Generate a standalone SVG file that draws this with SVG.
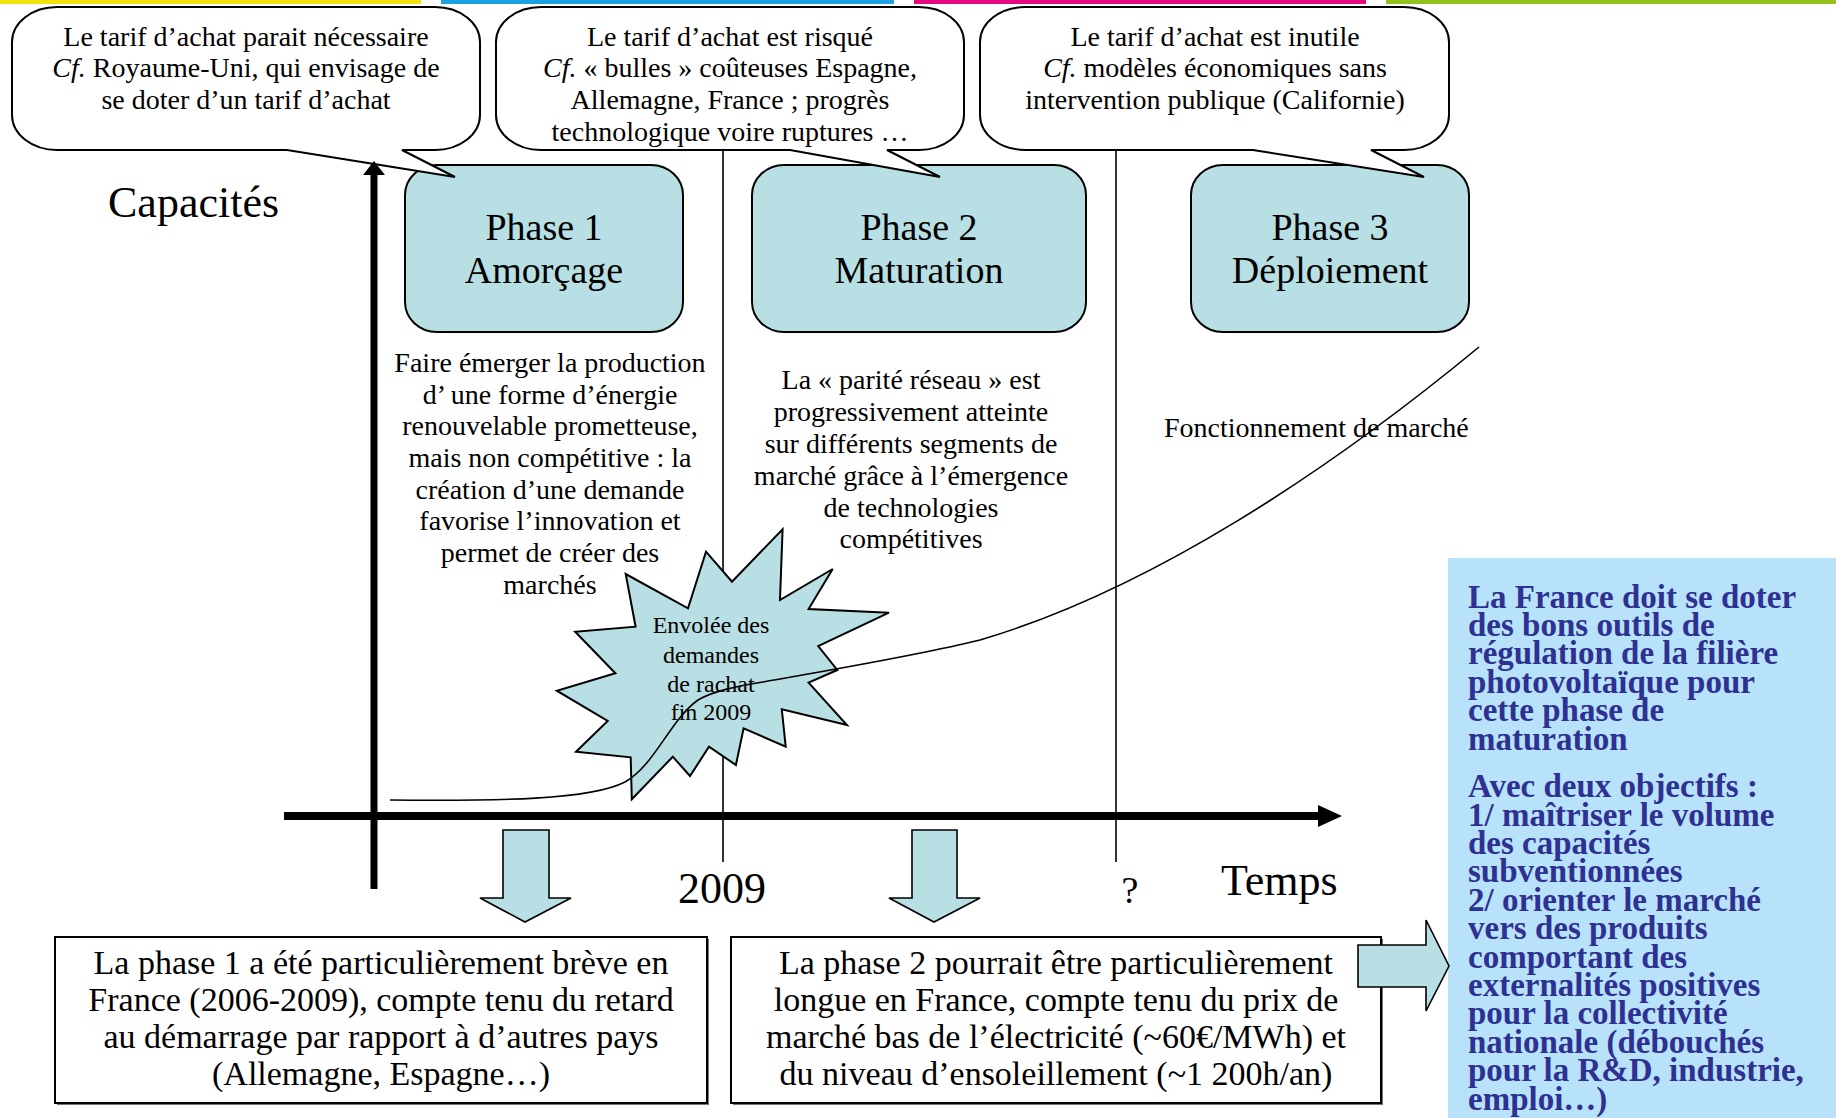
<svg xmlns="http://www.w3.org/2000/svg" width="1836" height="1118" viewBox="0 0 1836 1118">
  <style>
    text { font-family: "Liberation Serif", "Times New Roman", serif; fill: #000; }
    .c { text-anchor: middle; }
    .call { font-size: 28px; }
    .desc { font-size: 28px; }
    .phase { font-size: 38px; text-anchor: middle; }
    .bot { font-size: 34px; text-anchor: middle; }
    .blue { font-size: 33px; font-weight: bold; fill: #2e3192; }
    .bubble { fill: #fff; stroke: #000; stroke-width: 2; }
    .pbox { fill: #b8dfe3; stroke: #000; stroke-width: 2; }
    .barrow { fill: #b8dfe3; stroke: #000; stroke-width: 1.6; }
    .thin { stroke: #000; stroke-width: 1.6; fill: none; }
  </style>
  <rect width="1836" height="1118" fill="#fff"/>

  <!-- top colour bars -->
  <g id="topbars">
    <rect x="0" y="0" width="421" height="4" fill="#f2e20a"/>
    <rect x="441" y="0" width="453" height="4" fill="#1ba1e2"/>
    <rect x="914" y="0" width="452" height="4" fill="#e5097f"/>
    <rect x="1386" y="0" width="450" height="4" fill="#95c11f"/>
  </g>

  <!-- phase boxes -->
  <g id="phase1">
    <rect class="pbox" x="405" y="165" width="278" height="167" rx="32" ry="30"/>
    <text class="phase" x="544" y="240">Phase 1</text>
    <text class="phase" x="544" y="283">Amorçage</text>
  </g>
  <g id="phase2">
    <rect class="pbox" x="752" y="165" width="334" height="167" rx="32" ry="30"/>
    <text class="phase" x="919" y="240">Phase 2</text>
    <text class="phase" x="919" y="283">Maturation</text>
  </g>
  <g id="phase3">
    <rect class="pbox" x="1191" y="165" width="278" height="167" rx="32" ry="30"/>
    <text class="phase" x="1330" y="240">Phase 3</text>
    <text class="phase" x="1330" y="283">Déploiement</text>
  </g>

  <!-- callouts -->
  <g id="callout1">
    <path class="bubble" d="M57,7 H435 A45,35 0 0 1 480,42 V115 A45,35 0 0 1 435,150 H402 L455,177 L287,150 H57 A45,35 0 0 1 12,115 V42 A45,35 0 0 1 57,7 Z"/>
    <text class="call c" x="246" y="46">Le tarif d’achat parait nécessaire</text>
    <text class="call c" x="246" y="77"><tspan font-style="italic">Cf.</tspan> Royaume-Uni, qui envisage de</text>
    <text class="call c" x="246" y="109">se doter d’un tarif d’achat</text>
  </g>
  <g id="callout2">
    <path class="bubble" d="M541,7 H919 A45,35 0 0 1 964,42 V115 A45,35 0 0 1 919,150 H887 L940,177 L790,150 H541 A45,35 0 0 1 496,115 V42 A45,35 0 0 1 541,7 Z"/>
    <text class="call c" x="730" y="46">Le tarif d’achat est risqué</text>
    <text class="call c" x="730" y="77"><tspan font-style="italic">Cf.</tspan> « bulles » coûteuses Espagne,</text>
    <text class="call c" x="730" y="109">Allemagne, France ; progrès</text>
    <text class="call c" x="730" y="141">technologique voire ruptures …</text>
  </g>
  <g id="callout3">
    <path class="bubble" d="M1025,7 H1404 A45,35 0 0 1 1449,42 V115 A45,35 0 0 1 1404,150 H1371 L1424,177 L1253,150 H1025 A45,35 0 0 1 980,115 V42 A45,35 0 0 1 1025,7 Z"/>
    <text class="call c" x="1215" y="46">Le tarif d’achat est inutile</text>
    <text class="call c" x="1215" y="77"><tspan font-style="italic">Cf.</tspan> modèles économiques sans</text>
    <text class="call c" x="1215" y="109">intervention publique (Californie)</text>
  </g>

  <!-- connectors / axes -->
  <g id="connectors">
    <line class="thin" x1="723" y1="151" x2="723" y2="862"/>
    <line class="thin" x1="1116" y1="151" x2="1116" y2="862"/>
    <line x1="374" y1="889" x2="374" y2="172" stroke="#000" stroke-width="7"/>
    <path d="M363,175 L374,161 L385,175 Z" fill="#000"/>
    <line x1="284" y1="816" x2="1320" y2="816" stroke="#000" stroke-width="8"/>
    <path d="M1318,805 L1342,816 L1318,827 Z" fill="#000"/>
  </g>

  <!-- descriptions -->
  <g id="desc1">
    <text class="desc c" x="550" y="372">Faire émerger la production</text>
    <text class="desc c" x="550" y="404">d’ une forme d’énergie</text>
    <text class="desc c" x="550" y="435">renouvelable prometteuse,</text>
    <text class="desc c" x="550" y="467">mais non compétitive : la</text>
    <text class="desc c" x="550" y="499">création d’une demande</text>
    <text class="desc c" x="550" y="530">favorise l’innovation et</text>
    <text class="desc c" x="550" y="562">permet de créer des</text>
    <text class="desc c" x="550" y="594">marchés</text>
  </g>
  <g id="desc2">
    <text class="desc c" x="911" y="389">La « parité réseau » est</text>
    <text class="desc c" x="911" y="421">progressivement atteinte</text>
    <text class="desc c" x="911" y="453">sur différents segments de</text>
    <text class="desc c" x="911" y="485">marché grâce à l’émergence</text>
    <text class="desc c" x="911" y="517">de technologies</text>
    <text class="desc c" x="911" y="548">compétitives</text>
  </g>
  <g id="desc3">
    <text class="desc" x="1164" y="437">Fonctionnement de marché</text>
  </g>

  <!-- star -->
  <g id="star">
    <polygon class="pbox" points="782.6,529.3 780,600 832.7,569 808.6,609 889,612.7 818.2,646 837.3,670 808.6,682.7 846.9,725 781.8,709.3 785.7,746.7 743.6,728.3 735.9,765 709,746.7 690,776 672.8,756.7 631.8,799.3 630.7,757.3 576,751.7 607.7,721 556.8,690.7 615.4,673.3 575.2,631.7 635.6,626.7 625.7,574 688,608.3 706,551.7 732,581.7"/>
    <text class="c" x="711" y="633" font-size="24">Envolée des</text>
    <text class="c" x="711" y="663" font-size="24">demandes</text>
    <text class="c" x="711" y="692" font-size="24">de rachat</text>
    <text class="c" x="711" y="720" font-size="24">fin 2009</text>
  </g>

  <!-- growth curve -->
  <g id="curve">
    <path class="thin" stroke-width="2" d="M390,800 C500,801 590,800 625,782 C655,765 670,720 698,700 C715,690 740,686 763,682 C830,670 920,655 980,640 C1150,590 1330,470 1479,347"/>
  </g>

  <!-- axis labels -->
  <g id="labels">
    <text x="108" y="217" font-size="44">Capacités</text>
    <text class="c" x="722" y="903" font-size="44">2009</text>
    <text class="c" x="1130" y="903" font-size="38">?</text>
    <text x="1221" y="895" font-size="44">Temps</text>
  </g>

  <!-- down arrows -->
  <g id="arrow-down1">
    <path class="barrow" d="M503,830 H549 V898 H571 L525,922 L480,898 H503 Z"/>
  </g>
  <g id="arrow-down2">
    <path class="barrow" d="M912,830 H957 V898 H980 L934,922 L889,898 H912 Z"/>
  </g>

  <!-- bottom boxes -->
  <g id="box1">
    <rect x="57" y="939" width="652" height="166" fill="#777"/>
    <rect x="55" y="937" width="652" height="166" fill="#fff" stroke="#000" stroke-width="2"/>
    <text class="bot" x="381" y="974">La phase 1 a été particulièrement brève en</text>
    <text class="bot" x="381" y="1011">France (2006-2009), compte tenu du retard</text>
    <text class="bot" x="381" y="1048">au démarrage par rapport à d’autres pays</text>
    <text class="bot" x="381" y="1085">(Allemagne, Espagne…)</text>
  </g>
  <g id="box2">
    <rect x="733" y="939" width="650" height="166" fill="#777"/>
    <rect x="731" y="937" width="650" height="166" fill="#fff" stroke="#000" stroke-width="2"/>
    <text class="bot" x="1056" y="974">La phase 2 pourrait être particulièrement</text>
    <text class="bot" x="1056" y="1011">longue en France, compte tenu du prix de</text>
    <text class="bot" x="1056" y="1048">marché bas de l’électricité (~60€/MWh) et</text>
    <text class="bot" x="1056" y="1085">du niveau d’ensoleillement (~1 200h/an)</text>
  </g>

  <!-- conclusion box -->
  <g id="conclusion">
    <rect x="1448" y="558" width="388" height="560" fill="#b8e2f9"/>
    <text class="blue" x="1468" y="607.5">La France doit se doter</text>
    <text class="blue" x="1468" y="636">des bons outils de</text>
    <text class="blue" x="1468" y="664.3">régulation de la filière</text>
    <text class="blue" x="1468" y="692.7">photovoltaïque pour</text>
    <text class="blue" x="1468" y="721">cette phase de</text>
    <text class="blue" x="1468" y="749.5">maturation</text>
    <text class="blue" x="1468" y="797">Avec deux objectifs :</text>
    <text class="blue" x="1468" y="825.5">1/ maîtriser le volume</text>
    <text class="blue" x="1468" y="854">des capacités</text>
    <text class="blue" x="1468" y="882.3">subventionnées</text>
    <text class="blue" x="1468" y="910.7">2/ orienter le marché</text>
    <text class="blue" x="1468" y="939">vers des produits</text>
    <text class="blue" x="1468" y="967.5">comportant des</text>
    <text class="blue" x="1468" y="996">externalités positives</text>
    <text class="blue" x="1468" y="1024.3">pour la collectivité</text>
    <text class="blue" x="1468" y="1052.7">nationale (débouchés</text>
    <text class="blue" x="1468" y="1081">pour la R&amp;D, industrie,</text>
    <text class="blue" x="1468" y="1109.5">emploi…)</text>
  </g>
  <g id="arrow-right">
    <path class="barrow" d="M1358,945 H1426 V920 L1449,966 L1426,1011 V987 H1358 Z"/>
  </g>
</svg>
